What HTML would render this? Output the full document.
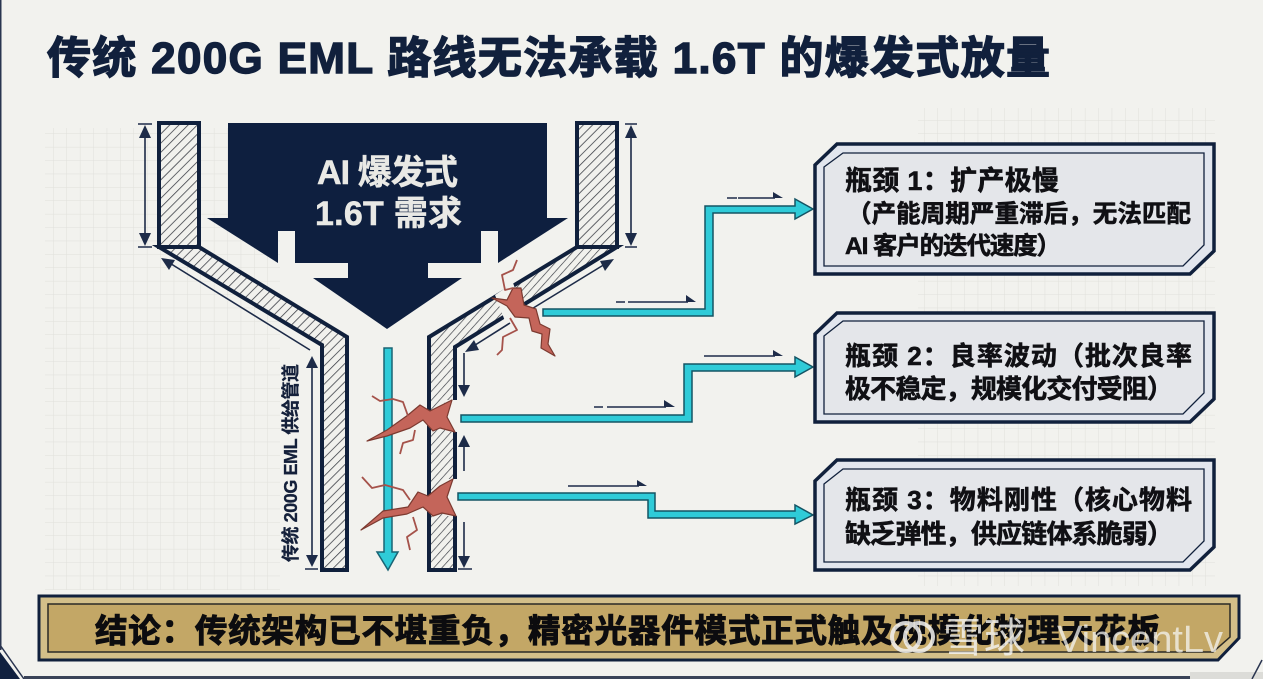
<!DOCTYPE html>
<html lang="zh">
<head>
<meta charset="utf-8">
<title>传统 200G EML 路线无法承载 1.6T 的爆发式放量</title>
<style>
html,body{margin:0;padding:0;background:#f2f2ee;width:1263px;height:679px;overflow:hidden}
svg{display:block}
text{font-family:"Liberation Sans","Noto Sans CJK SC",sans-serif;font-weight:700}
.b{fill:#101014;stroke:#101014;stroke-width:.6;font-size:26px}
</style>
</head>
<body>
<svg width="1263" height="679" viewBox="0 0 1263 679" xmlns="http://www.w3.org/2000/svg">
<defs>
<pattern id="grid" width="13.4" height="13.4" patternUnits="userSpaceOnUse"><path d="M13.4 0V13.4H0" fill="none" stroke="#e0e0db" stroke-width="1"/></pattern>
<pattern id="hatch" width="6.5" height="6.5" patternUnits="userSpaceOnUse" patternTransform="rotate(45)"><rect width="6.5" height="6.5" fill="#f1f1ed"/><line x1="0" y1="0" x2="0" y2="6.5" stroke="#34373f" stroke-width="1.5"/></pattern>
<pattern id="hatch2" width="6" height="6" patternUnits="userSpaceOnUse" patternTransform="rotate(42)"><rect width="6" height="6" fill="#f1f1ed"/><line x1="0" y1="0" x2="0" y2="6" stroke="#34373f" stroke-width="1.3"/></pattern>
</defs>
<rect width="1263" height="679" fill="#f2f2ee"/>
<rect x="45" y="128" width="235" height="462" fill="url(#grid)"/>
<rect x="918" y="108" width="297" height="478" fill="url(#grid)"/>
<rect x="0" y="0" width="1.5" height="650" fill="#2a3550"/>

<text x="47" y="73" font-size="44" fill="#11203c" stroke="#11203c" stroke-width="1.4" textLength="1003" lengthAdjust="spacing">传统 200G EML 路线无法承载 1.6T 的爆发式放量</text>

<!-- pipe walls -->
<g stroke="#10203c" stroke-width="4" stroke-linejoin="miter">
<polygon points="159,247 199,247 347,337 347,570 322,570 322,345" fill="url(#hatch)"/>
<rect x="159" y="123" width="40" height="124" fill="url(#hatch)"/>
<polygon points="577,247 617,247 455,347 455,570 429,570 429,337" fill="url(#hatch2)"/>
<rect x="577" y="123" width="40" height="124" fill="url(#hatch)"/>
</g>

<!-- main arrow -->
<polygon points="228,123 547,123 547,218 568,218 498,263 498,231 481,231 481,263 428,263 428,278 462,278 387,329 313,278 348,278 348,263 295,263 295,231 278,231 278,263 207,218 228,218" fill="#0e1f3f"/>
<text x="317" y="184" font-size="34" fill="#e9e9e5" stroke="#e9e9e5" stroke-width=".5" textLength="141" lengthAdjust="spacing">AI 爆发式</text>
<text x="315" y="225" font-size="34" fill="#e9e9e5" stroke="#e9e9e5" stroke-width=".5" textLength="147" lengthAdjust="spacing">1.6T 需求</text>

<!-- dimension lines -->
<g stroke="#1d2b48" stroke-width="1.6" fill="none">
<path d="M145 128V243M138 124H152M138 247H152"/>
<path d="M631 128V243M625 124H637M625 247H637"/>
<path d="M168 262L310 350"/>
<path d="M312 362V560M305 569H318"/>
<path d="M610 261L530 310M510 323L472 347"/>
<path d="M464 353V392M464 447V471M464 522V562M458 569H472"/>
<path d="M616 302H625M628 302H688M727 198H737M738 198H775M594 407H603M607 407H666M704 356H775M568 486H639"/>
</g>
<g fill="#1d2b48">
<polygon points="145,125 139,138 151,138"/><polygon points="145,246 139,233 151,233"/>
<polygon points="631,125 625,138 637,138"/><polygon points="631,246 625,233 637,233"/>
<polygon points="161,258 175,260 169,270"/>
<polygon points="312,356 306,368 318,368"/><polygon points="312,567 306,555 318,555"/>
<polygon points="614,259 600,261 605,271"/>
<polygon points="465,352 479,350 474,340"/>
<polygon points="464,397 458,385 470,385"/><polygon points="464,435 458,447 470,447"/><polygon points="464,568 458,556 470,556"/>
<polygon points="686,295 696,302 686,302"/><polygon points="773,192 783,198 773,198"/>
<polygon points="664,400 675,407 664,407"/><polygon points="773,350 783,356 773,356"/>
<polygon points="637,480 647,486 637,486"/>
</g>
<text transform="translate(297 463) rotate(-90)" x="-99" y="0" font-size="18" fill="#14203a" stroke="#14203a" stroke-width=".3" textLength="198" lengthAdjust="spacing">传统 200G EML 供给管道</text>

<!-- central arrow -->
<polygon points="384,348 392,348 392,552 398,552 388,570 377,552 384,552" fill="#2fcbd8" stroke="#1a6474" stroke-width="1.5"/>

<!-- cracks: breaks -->
<polygon points="513,283 523,309 505,321 495,295" fill="#f2f2ee"/>
<rect x="445" y="400" width="14" height="32" fill="#f2f2ee"/>
<rect x="445" y="479" width="14" height="37" fill="#f2f2ee"/>

<!-- connectors -->
<g fill="#2fcbd8" stroke="#145464" stroke-width="1.5" stroke-linejoin="miter">
<polygon points="543,309 705,309 705,206 795,206 795,199 813,209 795,219 795,213 713,213 713,316 543,316"/>
<polygon points="461,415 684,415 684,364 795,364 795,357 813,367 795,377 795,371 692,371 692,422 461,422"/>
<polygon points="458,493 655,493 655,511 795,511 795,505 813,515 795,524 795,518 648,518 648,500 458,500"/>
</g>

<!-- cracks -->
<g fill="#c4655a" stroke="#7c3a30" stroke-width="1.2" stroke-linejoin="round">
<polygon points="367,441 387,430 408,415 420,405 430,411 440,406 452,400 447,417 455,432 440,428 433,431 423,420 410,428 387,436"/>
<polygon points="361,530 383,511 408,507 418,492 428,496 440,486 453,479 447,497 456,516 442,513 433,516 423,507 407,514 383,518"/>
<polygon points="492,298 507,300 513,288 521,288 524,305 536,309 540,324 550,329 548,344 555,356 541,348 542,334 532,331 529,318 515,317 507,306"/>
</g>
<g fill="none" stroke="#a5524a" stroke-width="1.8" stroke-linejoin="round">
<polyline points="372,396 380,401 393,399 403,402 408,416"/>
<polyline points="415,430 413,440 403,443 400,454"/>
<polyline points="362,477 372,488 385,485 403,490 410,500"/>
<polyline points="413,517 417,530 407,537 410,550"/>
<polyline points="517,260 513,270 502,275 505,290 513,288"/>
<polyline points="510,318 517,330 503,337 502,350 497,355"/>
</g>

<!-- boxes -->
<g stroke="#10203c" stroke-linejoin="miter">
<polygon points="815,165 837,144 1214,144 1214,251 1190,274 815,274" fill="#e2e6ee" stroke-width="3.5"/>
<polygon points="824,167 843,153 1204,153 1204,245 1183,266 824,266" fill="#e4e6ea" stroke-width="1.3"/>
<polygon points="815,334 837,313 1214,313 1214,399 1190,422 815,422" fill="#e2e6ee" stroke-width="3.5"/>
<polygon points="824,336 843,321 1204,321 1204,393 1183,414 824,414" fill="#e4e6ea" stroke-width="1.3"/>
<polygon points="815,481 837,460 1214,460 1214,547 1190,570 815,570" fill="#e2e6ee" stroke-width="3.5"/>
<polygon points="824,484 843,469 1204,469 1204,541 1183,562 824,562" fill="#e4e6ea" stroke-width="1.3"/>
</g>
<text class="b" x="845" y="190" style="font-size:27px" textLength="214" lengthAdjust="spacing">瓶颈 1：扩产极慢</text>
<text class="b" x="847" y="222" style="font-size:24.5px" textLength="344" lengthAdjust="spacing">（产能周期严重滞后，无法匹配</text>
<text class="b" x="845" y="254" style="font-size:24.5px" textLength="216" lengthAdjust="spacing">AI 客户的迭代速度）</text>
<text class="b" x="845" y="365" textLength="347" lengthAdjust="spacing">瓶颈 2：良率波动（批次良率</text>
<text class="b" x="845" y="398" textLength="328" lengthAdjust="spacing">极不稳定，规模化交付受阻）</text>
<text class="b" x="845" y="509" textLength="347" lengthAdjust="spacing">瓶颈 3：物料刚性（核心物料</text>
<text class="b" x="845" y="543" textLength="328" lengthAdjust="spacing">缺乏弹性，供应链体系脆弱）</text>

<!-- banner -->
<polygon points="39,596 1239,596 1239,638 1218,660 39,660" fill="#d3bf89" stroke="#10203c" stroke-width="3"/>
<polygon points="48,604 1230,604 1230,637 1213,652 48,652" fill="#c3a766" stroke="#2b2a26" stroke-width="1.5"/>
<text x="95" y="642" font-size="32.5" fill="#0c0c0f" stroke="#0c0c0f" stroke-width="1" textLength="1065" lengthAdjust="spacing">结论：传统架构已不堪重负，精密光器件模式正式触及规模化物理天花板</text>

<!-- watermark -->
<g fill="none" stroke="#f2f2f0" stroke-width="4" opacity=".85">
<circle cx="906" cy="637" r="14"/><circle cx="919" cy="637" r="14"/>
</g>
<text x="943" y="652" font-size="41" fill="#f4f4f2" fill-opacity=".82" style="font-weight:400">雪球</text>
<text x="1038" y="650" font-size="30" fill="#f4f4f2" fill-opacity=".75" style="font-weight:400">·</text>
<text x="1057" y="652" font-size="38" fill="#f4f4f2" fill-opacity=".75" style="font-weight:400" textLength="166" lengthAdjust="spacing">VincentLv</text>

<!-- frame corners -->
<polygon points="0,652 20,679 0,679" fill="#11213f"/>
<path d="M0 645L24 679" stroke="#2a3550" stroke-width="1.5" fill="none"/>
<rect x="24" y="676" width="1170" height="3" fill="#3a4358"/>
<rect x="1190" y="672" width="73" height="7" fill="#dcdcd8"/>
<path d="M1262 660L1252 679" stroke="#2a3550" stroke-width="1.5" fill="none"/>
</svg>
</body>
</html>
